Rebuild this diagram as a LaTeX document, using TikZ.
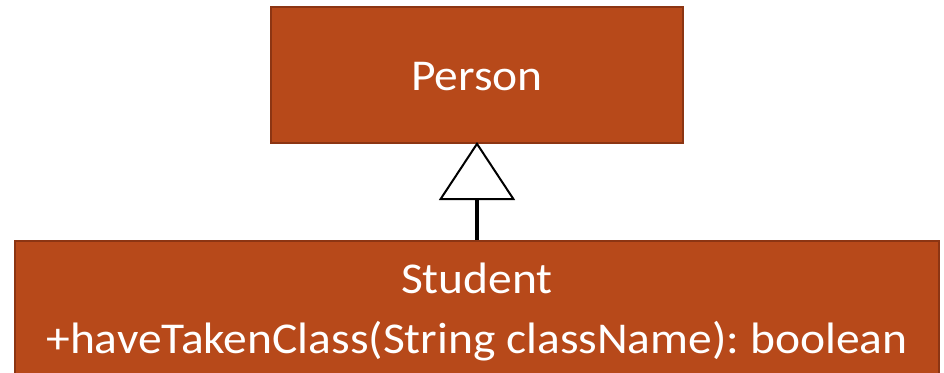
\documentclass[tikz,border=0pt]{standalone}
\usepackage{fontspec}
\setmainfont{Carlito}[FakeStretch=1.08]
\usetikzlibrary{arrows.meta}
\definecolor{boxfill}{HTML}{B7491A}
\definecolor{boxline}{HTML}{8C3513}
\frenchspacing
\tikzset{
  classbox/.style={draw=boxline, line width=2pt, fill=boxfill, text=white, inner sep=0pt},
  classtext/.style={text=white, font=\fontsize{44}{60}\selectfont\frenchspacing, align=center, inner sep=0pt},
  inherit/.style={line width=3.5pt, -{Triangle[open, fill=white, length=58pt, width=76pt, line width=2pt]}}
}
\begin{document}
\begin{tikzpicture}[x=1pt, y=-1pt]
\useasboundingbox (0,0) rectangle (944,372);
\node[classbox, minimum width=412pt, minimum height=136pt] (person) at (477,75) {};
\node[classtext, anchor=base] (persontext) at (477,90) {Person};
\node[classbox, minimum width=924pt, minimum height=150pt, anchor=north] (student) at (477,240) {};
\node[classtext, anchor=base] (studtext) at (477,353) {Student\\+haveTakenClass(String className): boolean};
\draw[inherit] (student.north) -- ([yshift=2pt]person.south);
\end{tikzpicture}
\end{document}
